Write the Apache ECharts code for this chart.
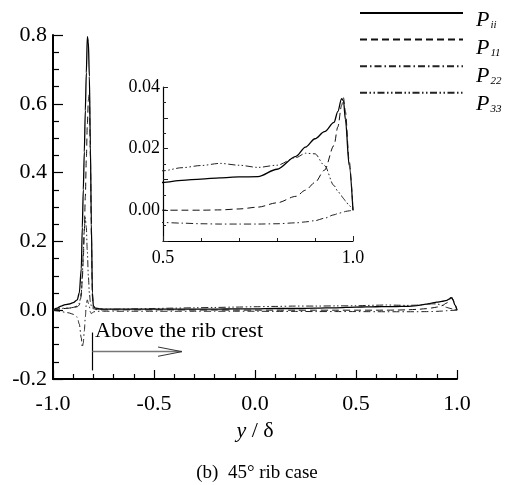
<!DOCTYPE html>
<html><head><meta charset="utf-8">
<script src="https://cdn.jsdelivr.net/npm/echarts@6/dist/echarts.min.js"></script>
<style>html,body{margin:0;padding:0;background:#fff}#c{width:514px;height:485px}</style>
</head><body><div id="c"></div>
<script>
// ---- data ----
const xs = [-1.0,-0.98,-0.96,-0.94,-0.92,-0.90,-0.88,-0.87,-0.86,-0.855,-0.85,-0.845,-0.84,-0.835,-0.83,-0.825,-0.82,-0.815,-0.81,-0.805,-0.80,-0.79,-0.77,-0.75,-0.7,-0.6,-0.5,-0.4,-0.3,-0.2,-0.1,0.0,0.1,0.2,0.3,0.4,0.5,0.55,0.6,0.65,0.7,0.75,0.8,0.85,0.875,0.9,0.925,0.95,0.96,0.97,0.975,0.98,0.99,1.0];
const Pii = [0,0.006,0.012,0.016,0.018,0.022,0.03,0.05,0.12,0.24,0.35,0.46,0.58,0.69,0.795,0.78,0.68,0.48,0.25,0.05,0.012,0.006,0.004,0.003,0.003,0.003,0.003,0.003,0.003,0.003,0.004,0.004,0.005,0.005,0.006,0.007,0.009,0.0097,0.0101,0.0105,0.0108,0.0109,0.0133,0.0175,0.0205,0.0232,0.0255,0.0285,0.032,0.0362,0.0355,0.0295,0.0145,0];
const P11 = [0,0.002,0.004,0.005,0.006,0.008,0.01,0.015,0.04,0.09,0.15,0.23,0.33,0.44,0.54,0.61,0.63,0.45,0.22,0.04,0.006,0.002,0.001,0.001,0.001,0.001,0.001,0.001,0.0005,0.0005,0.0003,0.0002,0.0001,0,0,0,0,0,0,0.0001,0.0004,0.001,0.0024,0.0045,0.0065,0.009,0.013,0.021,0.027,0.034,0.0365,0.032,0.016,0];
const P22 = [0,-0.002,-0.004,-0.006,-0.008,-0.012,-0.02,-0.04,-0.08,-0.108,-0.095,-0.06,-0.02,0.02,0.03,0.02,0.01,-0.005,-0.01,-0.008,-0.005,-0.004,-0.003,-0.003,-0.003,-0.003,-0.003,-0.003,-0.003,-0.003,-0.003,-0.003,-0.0035,-0.0035,-0.004,-0.004,-0.004,-0.0042,-0.0044,-0.0045,-0.0045,-0.0045,-0.0044,-0.0041,-0.0038,-0.0034,-0.0026,-0.0015,-0.0011,-0.0008,-0.0006,-0.0004,-0.0002,0];
const P33 = [0,0.003,0.005,0.006,0.006,0.008,0.012,0.02,0.05,0.1,0.17,0.24,0.27,0.24,0.17,0.1,0.05,0.025,0.012,0.006,0.004,0.003,0.003,0.003,0.003,0.004,0.005,0.006,0.007,0.008,0.009,0.01,0.011,0.012,0.012,0.0125,0.0128,0.0138,0.0145,0.0152,0.0146,0.0139,0.0146,0.0171,0.0185,0.0183,0.0145,0.008,0.0062,0.0046,0.0038,0.003,0.0015,0];
const seriesNames = ['Pii','P11','P22','P33'];
const seriesSubs = ['ii','11','22','33'];
const mainXTicks = [-1.0,-0.5,0.0,0.5,1.0];
const mainYTicks = [-0.2,0.0,0.2,0.4,0.6,0.8];
const insetXTicks = [0.5,1.0];
const insetYLabels = [0.00,0.02,0.04];
const insetYRange = [-0.01,0.04];
const annotationText = 'Above the rib crest';
const captionText = '(b)  45\u00b0 rib case';

// ---- styling ----
const FONT = "'Liberation Serif','Times New Roman',serif";
const dashes = ['solid',[7,4],[7,3,1.5,3],[7,2.5,1.5,2.5,1.5,2.5]];
const widths = [1.3,1,1,1];
const colors = ['#000','#111','#222','#222'];
const values = [Pii,P11,P22,P33];
const pairs = values.map(v => xs.map((x,i)=>[x,v[i]]));

function mkSeries(k, grid){
  return {
    name: seriesNames[k], type:'line', data: pairs[k],
    xAxisIndex: grid, yAxisIndex: grid,
    showSymbol:false, symbol:'none', smooth:0.3, smoothMonotone:'x',
    clip:true, silent:true, animation:false,
    lineStyle:{color:colors[k], width:widths[k], type:dashes[k]},
    itemStyle:{color:colors[k]}
  };
}
const series = [];
for (let k=0;k<4;k++) series.push(mkSeries(k,0));
for (let k=0;k<4;k++) series.push(mkSeries(k,1));
// annotation lines (data coords)
series[0].markLine = {
  silent:true, symbol:['none','none'], animation:false, label:{show:false},
  data:[
    [{coord:[-0.805,-0.065],lineStyle:{color:'#000',width:1.2,type:'solid'}},{coord:[-0.805,-0.175]}],
    [{coord:[-0.805,-0.1205],lineStyle:{color:'#777',width:1.3,type:'solid'}},{coord:[-0.362,-0.1205]}],
    [{coord:[-0.48,-0.107],lineStyle:{color:'#333',width:1,type:'solid'}},{coord:[-0.362,-0.1205]}],
    [{coord:[-0.48,-0.134],lineStyle:{color:'#333',width:1,type:'solid'}},{coord:[-0.362,-0.1205]}]
  ]
};

// legend label texts (P with subscript)
const legendTexts = seriesNames.map((n,i)=>({
  type:'text', x:476, y:20.5+28*i, silent:true,
  style:{text:'{p|P}{s|'+seriesSubs[i]+'}', verticalAlign:'middle', align:'left',
    rich:{
      p:{fontFamily:FONT,fontStyle:'italic',fontSize:22,lineHeight:22,fill:'#000'},
      s:{fontFamily:FONT,fontStyle:'italic',fontSize:11,lineHeight:13,padding:[9,0,0,1],fill:'#000'}
    }}
}));

const chart = echarts.init(document.getElementById('c'), null, {renderer:'canvas'});
const axisCommon = (w) => ({
  axisLine:{show:true,onZero:false,lineStyle:{color:'#000',width:w}},
  splitLine:{show:false}
});
const option = {
  animation:false,
  backgroundColor:'#fff',
  textStyle:{fontFamily:FONT},
  title:{text:captionText,left:'center',top:459,
    textStyle:{fontFamily:FONT,fontSize:19,fontWeight:'normal',color:'#000'}},
  legend:{
    orient:'vertical', left:359, top:6, padding:0, itemGap:14,
    itemWidth:103, itemHeight:14, selectedMode:false,
    data: seriesNames, formatter: () => '',
    itemStyle:{opacity:0},
    textStyle:{fontSize:1}
  },
  grid:[
    {left:53,right:57,top:35,bottom:106,containLabel:false},
    {left:163,right:161,top:87,bottom:244,containLabel:false}
  ],
  xAxis:[
    Object.assign({type:'value',gridIndex:0,min:mainXTicks[0],max:mainXTicks[mainXTicks.length-1],
      interval:mainXTicks[1]-mainXTicks[0],
      axisTick:{inside:true,length:9,lineStyle:{color:'#000',width:1.2}},
      minorTick:{show:true,splitNumber:5,length:5,lineStyle:{color:'#000',width:1.2}},
      axisLabel:{margin:14,fontSize:22,fontFamily:FONT,color:'#000',formatter:v=>v.toFixed(1)},
      name:'{i|y} / \u03b4', nameLocation:'middle', nameGap:36,
      nameTextStyle:{fontSize:22,fontFamily:FONT,color:'#000',rich:{i:{fontStyle:'italic',fontSize:22,fontFamily:FONT}}}
    },axisCommon(2)),
    Object.assign({type:'value',gridIndex:1,min:insetXTicks[0],max:insetXTicks[1],
      interval:insetXTicks[1]-insetXTicks[0],
      axisTick:{inside:true,length:5,lineStyle:{color:'#222',width:1}},
      minorTick:{show:true,splitNumber:5,length:3,lineStyle:{color:'#222',width:1}},
      axisLabel:{margin:8,fontSize:18,fontFamily:FONT,color:'#000',formatter:v=>v.toFixed(1)}
    },axisCommon(1.2))
  ],
  yAxis:[
    Object.assign({type:'value',gridIndex:0,min:mainYTicks[0],max:mainYTicks[mainYTicks.length-1],
      interval:mainYTicks[1]-mainYTicks[0],
      axisTick:{inside:true,length:10,lineStyle:{color:'#000',width:1.2}},
      minorTick:{show:true,splitNumber:4,length:6,lineStyle:{color:'#000',width:1.2}},
      axisLabel:{margin:6,fontSize:22,fontFamily:FONT,color:'#000',formatter:v=>v.toFixed(1)}
    },axisCommon(2)),
    Object.assign({type:'value',gridIndex:1,min:insetYRange[0],max:insetYRange[1],
      interval:0.01,
      axisTick:{inside:true,length:5,lineStyle:{color:'#222',width:1}},
      minorTick:{show:true,splitNumber:2,length:3,lineStyle:{color:'#222',width:1}},
      axisLabel:{margin:3,fontSize:18,fontFamily:FONT,color:'#000',
        formatter:v=>{const r=Math.round(v*100)/100; return insetYLabels.some(t=>Math.abs(t-r)<1e-9)?r.toFixed(2):'';}}
    },axisCommon(1.2))
  ],
  graphic:[
    {type:'text',left:95,top:320,silent:true,
      style:{text:annotationText,font:'22px '+FONT,fill:'#000'}}
  ].concat(legendTexts),
  series: series
};
chart.setOption(option);
</script></body></html>
